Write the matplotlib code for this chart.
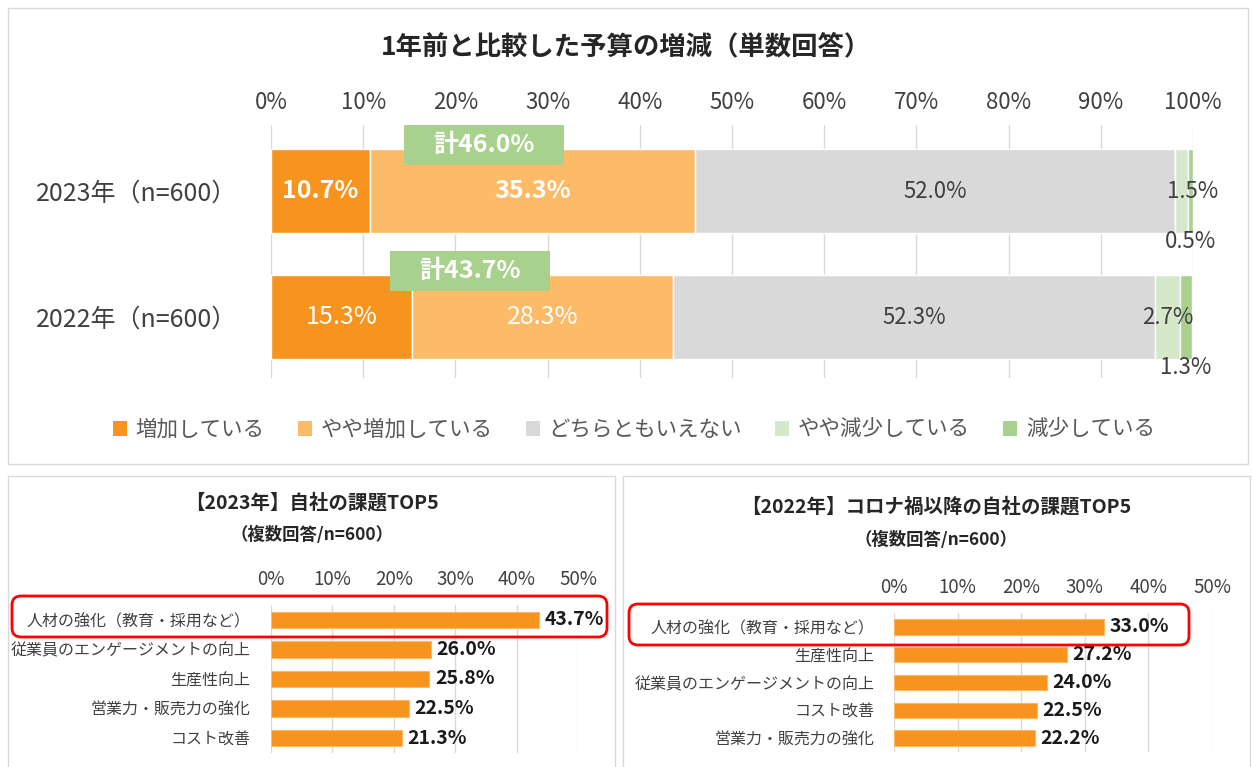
import matplotlib
matplotlib.use("Agg")
import matplotlib.pyplot as plt
from matplotlib.patches import Rectangle, FancyBboxPatch
from matplotlib.transforms import IdentityTransform

plt.rcParams['font.family'] = ['Noto Sans CJK JP', 'DejaVu Sans']

# --- data ---
years = ['2023年（n=600）', '2022年（n=600）']
answers = ['増加している', 'やや増加している', 'どちらともいえない', 'やや減少している', '減少している']
budget_2023 = [10.7, 35.3, 52.0, 1.5, 0.5]
budget_2022 = [15.3, 28.3, 52.3, 2.7, 1.3]
increase_totals = [46.0, 43.7]

issues_2023 = ['人材の強化（教育・採用など）', '従業員のエンゲージメントの向上', '生産性向上',
               '営業力・販売力の強化', 'コスト改善']
issues_2023_vals = [43.7, 26.0, 25.8, 22.5, 21.3]
issues_2022 = ['人材の強化（教育・採用など）', '生産性向上', '従業員のエンゲージメントの向上',
               'コスト改善', '営業力・販売力の強化']
issues_2022_vals = [33.0, 27.2, 24.0, 22.5, 22.2]

colors = ['#F7941D', '#FDBA67', '#D9D9D9', '#D5E9CA', '#A9D18E']
ORANGE = '#F7941D'
GRID = '#D9D9D9'
TXT = '#404040'

W, H = 1252, 767
fig = plt.figure(figsize=(W / 100, H / 100), dpi=100)


def px_axes(l, t, r, b):
    return fig.add_axes([l / W, 1 - b / H, (r - l) / W, (b - t) / H])


def px_box(l, t, r, b, **kw):
    p = FancyBboxPatch((l, H - b), r - l, b - t, transform=IdentityTransform(), **kw)
    fig.add_artist(p)


# panel frames
px_box(8, 8, 1248, 464, boxstyle='square,pad=0', fc='none', ec=GRID, lw=1)
px_box(8, 476, 615, 770, boxstyle='square,pad=0', fc='none', ec=GRID, lw=1)
px_box(623, 476, 1250, 770, boxstyle='square,pad=0', fc='none', ec=GRID, lw=1)

# --- top chart: budget change ---
fig.text(626 / W, 1 - 47 / H, '1年前と比較した予算の増減（単数回答）', ha='center', va='center',
         fontsize=19, fontweight='bold', color='#262626')

ax = px_axes(271, 125, 1193, 378)
bh = 0.66
for i, vals in enumerate([budget_2023, budget_2022]):
    left = 0
    for j, v in enumerate(vals):
        ax.barh(i, v, left=left, height=bh, color=colors[j], edgecolor='white', lw=1, zorder=2)
        cx = left + v / 2
        s = f'{v:.1f}%'
        if j < 2:
            ax.text(cx, i, s, ha='center', va='center', color='white', fontsize=18,
                    fontweight='bold' if i == 0 else 'normal', zorder=4)
        elif j < 4:
            ax.text(cx + (1.2 if j == 3 and i == 0 else 0), i, s, ha='center', va='center',
                    color=TXT, fontsize=16, zorder=4)
        else:
            ax.text(cx, i + 0.40, s, ha='center', va='center', color=TXT, fontsize=16, zorder=4)
        left += v
    bx = [23.1, 21.6][i]
    ax.add_patch(Rectangle((bx - 8.7, i - 0.365 - 0.16), 17.4, 0.32, fc='#A9D18E', ec='none', zorder=3))
    ax.text(bx, i - 0.365, f'計{increase_totals[i]:.1f}%', ha='center', va='center', color='white',
            fontsize=18, fontweight='bold', zorder=4)

ax.set_xlim(0, 100)
ax.set_ylim(1.484, -0.524)
ax.xaxis.tick_top()
ax.set_xticks(range(0, 101, 10))
ax.set_xticklabels([f'{v}%' for v in range(0, 101, 10)], fontsize=16, color=TXT)
ax.set_yticks([0, 1])
ax.set_yticklabels(years, fontsize=18, color=TXT)
ax.tick_params(length=0)
ax.tick_params(axis='x', pad=8)
ax.tick_params(axis='y', pad=24)
ax.grid(axis='x', color=GRID, lw=1, zorder=0)
for sp in ax.spines.values():
    sp.set_visible(False)

handles = [Rectangle((0, 0), 1, 1, fc=c, ec='none') for c in colors]
leg = fig.legend(handles, answers, loc='center', bbox_to_anchor=(634 / W, 1 - 430 / H), ncol=5,
                 frameon=False, fontsize=15.5, handlelength=0.65, handleheight=0.65,
                 handletextpad=0.4, columnspacing=1.55)
for t in leg.get_texts():
    t.set_color('#595959')


# --- bottom charts: top5 issues ---
def top5(box, title_x, title_y, sub_y, labels, vals, title, tpad):
    a = px_axes(*box)
    a.barh(range(len(vals)), vals, height=0.55, color=ORANGE, edgecolor='#FBB869', lw=0.8, zorder=2)
    for k, v in enumerate(vals):
        a.annotate(f'{v:.1f}%', (v, k), xytext=(4, 0), textcoords='offset points',
                   ha='left', va='center', fontsize=14, fontweight='bold', color='#1a1a1a')
    a.set_xlim(0, 50)
    a.set_ylim(4.5, -0.5)
    a.xaxis.tick_top()
    a.set_xticks(range(0, 51, 10))
    a.set_xticklabels([f'{v}%' for v in range(0, 51, 10)], fontsize=13.5, color=TXT)
    a.set_yticks(range(len(labels)))
    a.set_yticklabels(labels, fontsize=11.5, color=TXT)
    a.tick_params(length=0)
    a.tick_params(axis='x', pad=11)
    a.tick_params(axis='y', pad=tpad)
    a.grid(axis='x', color=GRID, lw=1, zorder=0)
    for sp in a.spines.values():
        sp.set_visible(False)
    fig.text(title_x / W, 1 - title_y / H, title, ha='center', va='center',
             fontsize=14, fontweight='bold', color='#262626')
    fig.text(title_x / W, 1 - sub_y / H, '（複数回答/n=600）', ha='center', va='center',
             fontsize=12.5, fontweight='bold', color='#262626')


top5((271, 605, 578, 753), 312, 503, 535, issues_2023, issues_2023_vals, '【2023年】自社の課題TOP5', 15)
top5((894, 613, 1212, 752), 936, 507, 540, issues_2022, issues_2022_vals,
     '【2022年】コロナ禍以降の自社の課題TOP5', 14)

# highlight boxes around the top issue
px_box(12, 596, 607, 637, boxstyle='round,pad=0,rounding_size=9', fc='none', ec='#FF0000', lw=2)
px_box(629, 604, 1189, 645, boxstyle='round,pad=0,rounding_size=9', fc='none', ec='#FF0000', lw=2)

fig.savefig('out.png', dpi=100, facecolor='white')
